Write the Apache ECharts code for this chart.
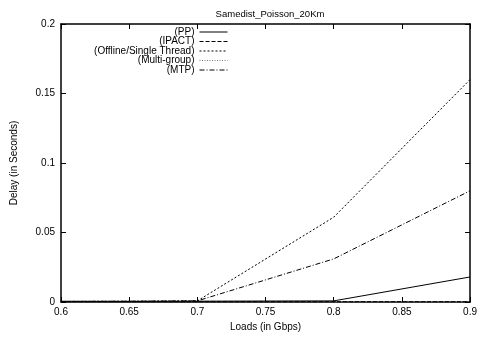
<!DOCTYPE html>
<html>
<head>
<meta charset="utf-8">
<script src="https://cdn.jsdelivr.net/npm/echarts@6/dist/echarts.min.js"></script>
<style>
html,body{margin:0;padding:0;background:#fff;}
#chart{width:480px;height:339px;}
</style>
</head>
<body>
<div id="chart"></div>
<script>
// Offered load (Gbps) and mean delay (s) per scheme
const loads = [0.6, 0.65, 0.7, 0.8, 0.9];
const ppDelay = [0.0005, 0.0005, 0.0006, 0.0008, 0.018];
const ipactDelay = [0.0002, 0.0002, 0.0002, 0.0002, 0.0002];
const offlineDelay = [0.0004, 0.0005, 0.0008, 0.061, 0.16];
const multiGroupDelay = [0.0003, 0.0003, 0.0003, 0.0003, 0.0003];
const mtpDelay = [0.0004, 0.0005, 0.0008, 0.031, 0.08];
const seriesNames = ['(PP)', '(IPACT)', '(Offline/Single Thread)', '(Multi-group)', '(MTP)'];
const xTicks = [0.6, 0.65, 0.7, 0.75, 0.8, 0.85, 0.9];
const yTicks = [0, 0.05, 0.1, 0.15, 0.2];

const font = 'Liberation Sans, Arial, sans-serif';
const values = [ppDelay, ipactDelay, offlineDelay, multiGroupDelay, mtpDelay];
const styles = [
  {color: '#000', type: 'solid'},
  {color: '#000', type: [4, 2]},
  {color: '#000', type: [2, 2]},
  {color: '#777', type: [1, 1.5]},
  {color: '#000', type: [5, 2, 1, 2]}
];

const series = seriesNames.map((name, i) => ({
  name: name,
  type: 'line',
  symbol: 'none',
  data: loads.map((x, j) => [x, values[i][j]]),
  lineStyle: {width: 1, color: styles[i].color, type: styles[i].type},
  itemStyle: {color: styles[i].color},
  z: 5 - i
}));

// One right-aligned legend row per series, sample line to the right of the text
const legends = seriesNames.map((name, i) => ({
  data: [name],
  right: 252,
  top: 27 + i * 9.5,
  align: 'right',
  itemWidth: 28,
  itemHeight: 8,
  itemGap: 0,
  padding: 0,
  selectedMode: false,
  itemStyle: {opacity: 0},
  lineStyle: {width: 1},
  textStyle: {fontFamily: font, fontSize: 10, color: '#000'}
}));

const axisCommon = {
  type: 'value',
  splitLine: {show: false},
  axisLine: {show: true, onZero: false, lineStyle: {color: '#000', width: 1.5}},
  axisTick: {show: true, inside: true, length: 5, lineStyle: {color: '#000', width: 1}}
};

const chart = echarts.init(document.getElementById('chart'), null, {renderer: 'canvas'});
chart.setOption({
  animation: false,
  backgroundColor: '#fff',
  title: {
    text: 'Samedist_Poisson_20Km',
    left: 265, top: 4, textAlign: 'center',
    textStyle: {fontFamily: font, fontSize: 9.5, fontWeight: 'normal', color: '#000'}
  },
  legend: legends,
  grid: {left: 61, right: 7, top: 24, bottom: 37},
  xAxis: [
    Object.assign({}, axisCommon, {
      min: xTicks[0], max: xTicks[xTicks.length - 1], interval: 0.05,
      name: 'Loads (in Gbps)', nameLocation: 'middle', nameGap: 19,
      nameTextStyle: {fontFamily: font, fontSize: 10, color: '#000'},
      axisLabel: {fontFamily: font, fontSize: 10, color: '#000', margin: 5,
        formatter: v => String(+v.toFixed(2))}
    }),
    Object.assign({}, axisCommon, {
      position: 'top', min: xTicks[0], max: xTicks[xTicks.length - 1], interval: 0.05,
      axisLabel: {show: false}
    })
  ],
  yAxis: [
    Object.assign({}, axisCommon, {
      min: yTicks[0], max: yTicks[yTicks.length - 1], interval: 0.05,
      name: 'Delay (in Seconds)', nameLocation: 'middle', nameGap: 42,
      nameTextStyle: {fontFamily: font, fontSize: 10, color: '#000'},
      axisLabel: {fontFamily: font, fontSize: 10, color: '#000', margin: 6,
        formatter: v => String(+v.toFixed(2))}
    }),
    Object.assign({}, axisCommon, {
      position: 'right', min: yTicks[0], max: yTicks[yTicks.length - 1], interval: 0.05,
      axisLabel: {show: false}
    })
  ],
  series: series
});
</script>
</body>
</html>
